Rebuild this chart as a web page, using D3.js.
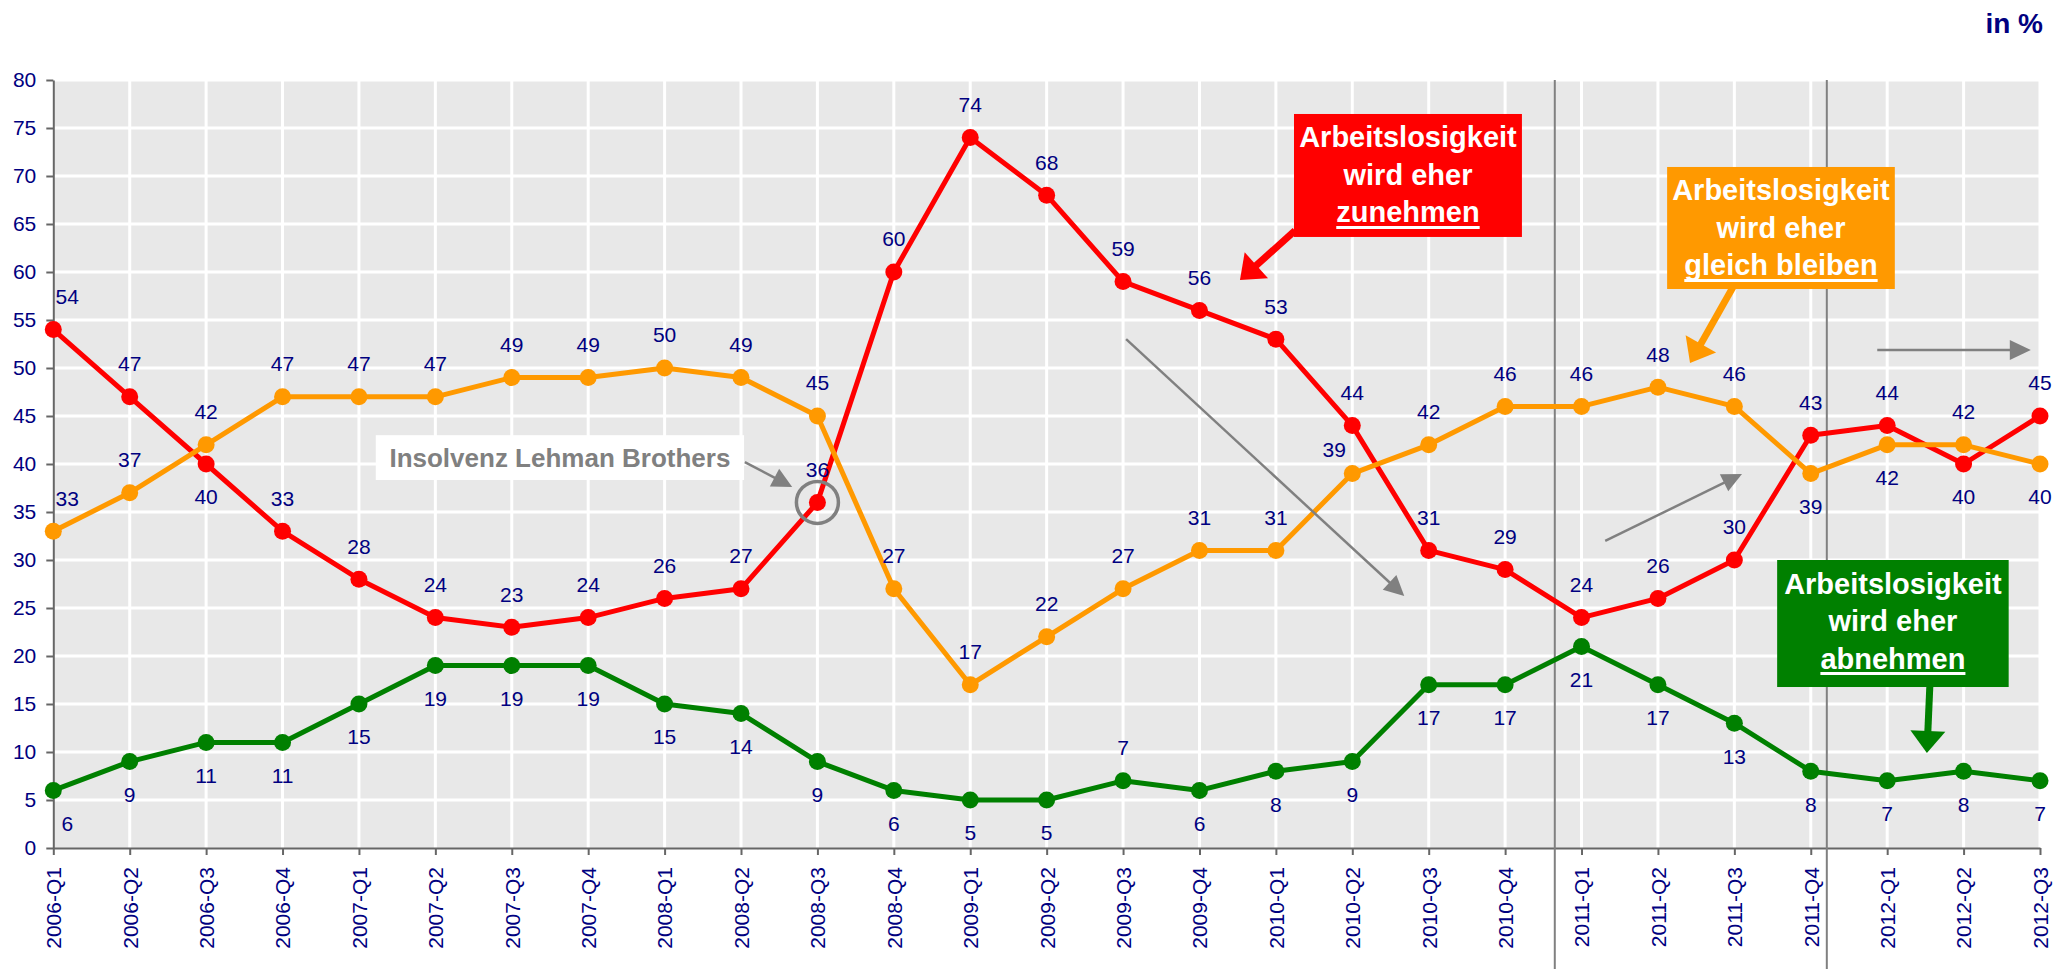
<!DOCTYPE html>
<html>
<head>
<meta charset="utf-8">
<script src="https://cdn.jsdelivr.net/npm/d3@7"></script>
<style>
  body { margin: 0; background: #fff; }
  svg { display: block; font-family: Arial, "Liberation Sans", sans-serif; }
</style>
</head>
<body>
<svg id="chart" width="2071" height="969"></svg>
<script>
const quarters = [
  "2006-Q1", "2006-Q2", "2006-Q3", "2006-Q4",
  "2007-Q1", "2007-Q2", "2007-Q3", "2007-Q4",
  "2008-Q1", "2008-Q2", "2008-Q3", "2008-Q4",
  "2009-Q1", "2009-Q2", "2009-Q3", "2009-Q4",
  "2010-Q1", "2010-Q2", "2010-Q3", "2010-Q4",
  "2011-Q1", "2011-Q2", "2011-Q3", "2011-Q4",
  "2012-Q1", "2012-Q2", "2012-Q3",
];
const zunehmen = [54, 47, 40, 33, 28, 24, 23, 24, 26, 27, 36, 60, 74, 68, 59, 56, 53, 44, 31, 29, 24, 26, 30, 43, 44, 40, 45];
const gleich = [33, 37, 42, 47, 47, 47, 49, 49, 50, 49, 45, 27, 17, 22, 27, 31, 31, 39, 42, 46, 46, 48, 46, 39, 42, 42, 40];
const abnehmen = [6, 9, 11, 11, 15, 19, 19, 19, 15, 14, 9, 6, 5, 5, 7, 6, 8, 9, 17, 17, 21, 17, 13, 8, 7, 8, 7];
const yTicks = d3.range(0, 85, 5);

// value label above (a) or below (b) the point
const sideZu = ("aab" + "a".repeat(22) + "ba").split("");
const sideGleich = ("a".repeat(23) + "bbab").split("");
const sideAb = ("b".repeat(14) + "a" + "b".repeat(12)).split("");

const navy = "#000080";
const grey = "#808080";

const svg = d3.select("#chart");
const plot = { left: 53.3, right: 2040, top: 80, bottom: 848 };

const x = d3.scalePoint().domain(quarters).range([plot.left, plot.right]);
const y = d3.scaleLinear().domain([0, 80]).range([plot.bottom, plot.top]);
const xi = (i) => plot.left + i * x.step();

// background + grid
svg.append("rect")
  .attr("x", plot.left).attr("y", plot.top)
  .attr("width", plot.right - plot.left).attr("height", plot.bottom - plot.top)
  .attr("fill", "#e8e8e8");

svg.append("g").selectAll("line")
  .data(yTicks.filter((d) => d > 0))
  .join("line")
  .attr("x1", plot.left).attr("x2", plot.right)
  .attr("y1", (d) => y(d)).attr("y2", (d) => y(d))
  .attr("stroke", "#fff").attr("stroke-width", 3);

svg.append("g").selectAll("line")
  .data(quarters.slice(1))
  .join("line")
  .attr("x1", (d) => x(d)).attr("x2", (d) => x(d))
  .attr("y1", plot.top).attr("y2", plot.bottom)
  .attr("stroke", "#fff").attr("stroke-width", 3);

// axes
const yAxis = svg.append("g")
  .attr("transform", `translate(${plot.left},0)`)
  .call(d3.axisLeft(y).tickValues(yTicks).tickSize(7).tickSizeOuter(0).tickPadding(10));

const xAxis = svg.append("g")
  .attr("transform", `translate(0,${plot.bottom})`)
  .call(d3.axisBottom(x).tickSize(7).tickSizeOuter(0));

xAxis.selectAll("text")
  .attr("transform", "rotate(-90)")
  .attr("x", -19).attr("y", 0).attr("dy", "0.35em")
  .attr("text-anchor", "end");

[yAxis, xAxis].forEach((ax) => {
  ax.select(".domain").attr("stroke", "#666").attr("stroke-width", 2);
  ax.selectAll(".tick line").attr("stroke", "#666").attr("stroke-width", 2);
  ax.selectAll("text").attr("fill", navy).attr("font-size", 21)
    .style("font-family", 'Arial, "Liberation Sans", sans-serif');
});

// separators
svg.append("g").selectAll("line")
  .data([19.65, 23.21])
  .join("line")
  .attr("x1", (d) => xi(d)).attr("x2", (d) => xi(d))
  .attr("y1", plot.top).attr("y2", 969)
  .attr("stroke", grey).attr("stroke-width", 2);

// series
const series = [
  { key: "zu", values: zunehmen, color: "#ff0000", side: sideZu },
  { key: "gleich", values: gleich, color: "#ff9900", side: sideGleich },
  { key: "ab", values: abnehmen, color: "#008000", side: sideAb },
];

const line = d3.line().x((d, i) => x(quarters[i])).y((d) => y(d));

series.forEach((s) => {
  const g = svg.append("g");
  g.append("path")
    .datum(s.values)
    .attr("d", line)
    .attr("fill", "none")
    .attr("stroke", s.color)
    .attr("stroke-width", 5)
    .attr("stroke-linejoin", "round");

  g.selectAll("circle")
    .data(s.values)
    .join("circle")
    .attr("cx", (d, i) => x(quarters[i]))
    .attr("cy", (d) => y(d))
    .attr("r", 8.5)
    .attr("fill", s.color);
});

const nudge = { "gleich-17": [-18, 9] };

series.forEach((s) => {
  svg.append("g").selectAll("text")
    .data(s.values)
    .join("text")
    .attr("x", (d, i) => x(quarters[i]) + (i === 0 ? 14 : 0) + (nudge[`${s.key}-${i}`] || [0, 0])[0])
    .attr("y", (d, i) => y(d) + (s.side[i] === "a" ? -33 : 33) + (nudge[`${s.key}-${i}`] || [0, 0])[1])
    .attr("dy", "0.35em")
    .attr("text-anchor", "middle")
    .attr("font-size", 21)
    .attr("fill", navy)
    .text((d) => d);
});

// annotations
function arrow(i1, v1, i2, v2, color, width, headLen, headW) {
  const x1 = xi(i1), y1 = y(v1), x2 = xi(i2), y2 = y(v2);
  const len = Math.hypot(x2 - x1, y2 - y1);
  const ux = (x2 - x1) / len, uy = (y2 - y1) / len;
  const bx = x2 - ux * headLen, by = y2 - uy * headLen;
  svg.append("line")
    .attr("x1", x1).attr("y1", y1)
    .attr("x2", bx + ux * 2).attr("y2", by + uy * 2)
    .attr("stroke", color).attr("stroke-width", width);
  const px = -uy * headW / 2, py = ux * headW / 2;
  svg.append("polygon")
    .attr("points", [[x2, y2], [bx + px, by + py], [bx - px, by - py]].map((p) => p.join(",")).join(" "))
    .attr("fill", color);
}

function callout(i0, v0, i1, v1, fill, lines) {
  const x0 = xi(i0), x1 = xi(i1), y0 = y(v0), y1 = y(v1);
  const g = svg.append("g");
  g.append("rect")
    .attr("x", x0).attr("y", y0)
    .attr("width", x1 - x0).attr("height", y1 - y0)
    .attr("fill", fill);
  const cx = (x0 + x1) / 2;
  lines.forEach((t, k) => {
    const base = y0 + 33.5 + k * 37.5;
    const txt = g.append("text")
      .attr("x", cx).attr("y", base)
      .attr("text-anchor", "middle")
      .attr("fill", "#fff")
      .attr("font-weight", "bold")
      .attr("font-size", 29)
      .text(t);
    if (k === lines.length - 1) {
      const w = txt.node().getComputedTextLength();
      g.append("line")
        .attr("x1", cx - w / 2).attr("x2", cx + w / 2)
        .attr("y1", base + 5).attr("y2", base + 5)
        .attr("stroke", "#fff").attr("stroke-width", 3);
    }
  });
}

// Lehman
svg.append("circle")
  .attr("cx", x(quarters[10])).attr("cy", y(zunehmen[10]))
  .attr("r", 21)
  .attr("fill", "none")
  .attr("stroke", grey)
  .attr("stroke-width", 3.5);

svg.append("rect")
  .attr("x", xi(4.22)).attr("y", y(43.0))
  .attr("width", xi(9.04) - xi(4.22)).attr("height", y(38.33) - y(43.0))
  .attr("fill", "#fff");

svg.append("text")
  .attr("x", (xi(4.22) + xi(9.04)) / 2)
  .attr("y", (y(43.0) + y(38.33)) / 2)
  .attr("dy", "0.35em")
  .attr("text-anchor", "middle")
  .attr("font-weight", "bold")
  .attr("font-size", 26)
  .attr("fill", grey)
  .text("Insolvenz Lehman Brothers");

arrow(9.05, 40.2, 9.67, 37.6, grey, 2.5, 20, 20);

// trend arrows
arrow(14.04, 53.0, 17.68, 26.25, grey, 2.5, 20, 20);
arrow(20.31, 31.98, 22.10, 38.96, grey, 2.5, 20, 19);
arrow(23.87, 51.875, 25.88, 51.875, grey, 2.5, 21, 20);

// callouts
arrow(16.25, 64.3, 15.53, 59.17, "#ff0000", 7, 22, 35);
callout(16.237, 76.46, 19.22, 63.65, "#ff0000", ["Arbeitslosigkeit", "wird eher", "zunehmen"]);

arrow(21.98, 58.4, 21.42, 50.52, "#ff9900", 7, 22, 35);
callout(21.12, 70.94, 24.1, 58.23, "#ff9900", ["Arbeitslosigkeit", "wird eher", "gleich bleiben"]);

arrow(24.56, 17.2, 24.52, 9.9, "#008000", 7, 22, 35);
callout(22.56, 30.0, 25.59, 16.77, "#008000", ["Arbeitslosigkeit", "wird eher", "abnehmen"]);

svg.append("text")
  .attr("x", 2043).attr("y", 33)
  .attr("text-anchor", "end")
  .attr("font-weight", "bold")
  .attr("font-size", 28)
  .attr("fill", navy)
  .text("in %");
</script>
</body>
</html>
